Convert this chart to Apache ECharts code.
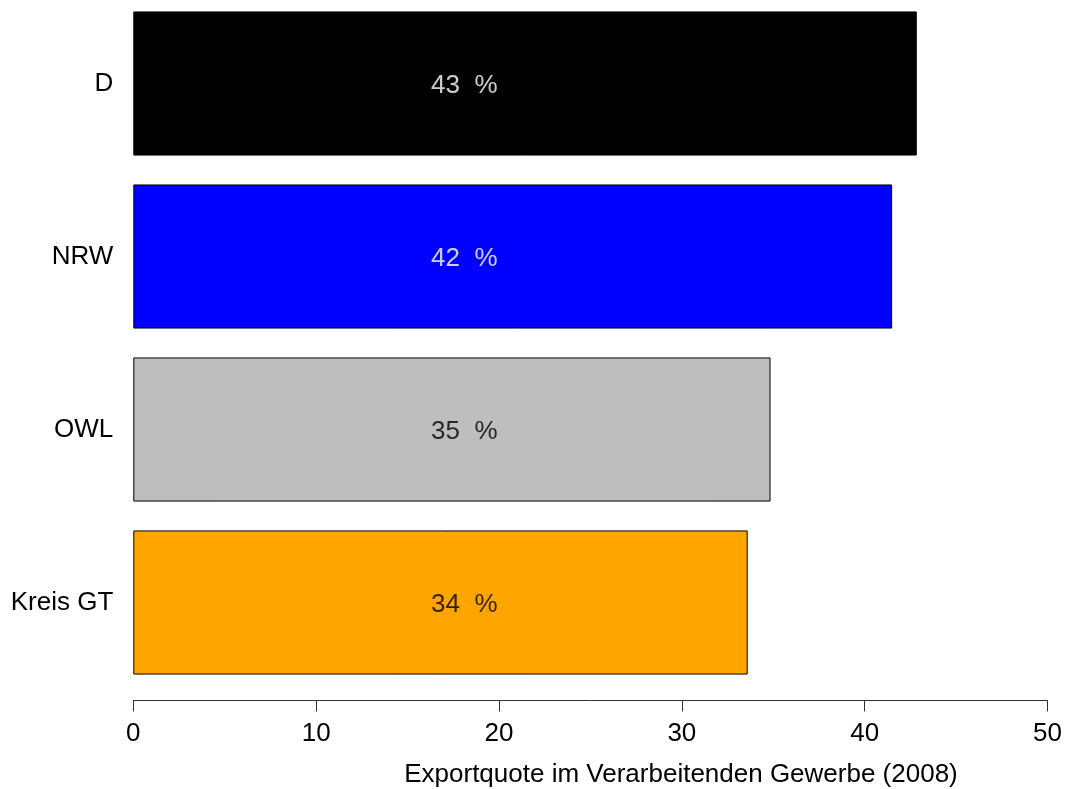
<!DOCTYPE html>
<html><head><meta charset="utf-8">
<script src="https://cdn.jsdelivr.net/npm/echarts@6/dist/echarts.min.js"></script>
<style>html,body{margin:0;padding:0;background:#fff;overflow:hidden}#c{position:absolute;left:0;top:-3.5px;width:1065px;height:793px}</style>
</head><body><div id="c"></div>
<script>
const categories = ['D', 'NRW', 'OWL', 'Kreis GT'];
const values = [42.85, 41.5, 34.85, 33.6];
const labels = ['43  %', '42  %', '35  %', '34  %'];
const barColors = ['#000000', '#0000FF', '#BEBEBE', '#FFA500'];
const labelColors = ['#FFFFFF', '#FFFFFF', '#000000', '#000000'];
const labelPos = [18.1, 18.1, 18.1, 18.1];
const xTicks = [0, 10, 20, 30, 40, 50];
const axisTitle = 'Exportquote im Verarbeitenden Gewerbe (2008)';

const font = 'Liberation Sans, Arial, Helvetica, sans-serif';
const chart = echarts.init(document.getElementById('c'), null, {renderer: 'canvas'});
chart.setOption({
  animation: false,
  backgroundColor: '#ffffff',
  grid: {left: 133.3, right: 1065 - 1048.8, top: 0, height: 692, containLabel: false},
  xAxis: {
    type: 'value', min: xTicks[0], max: xTicks[xTicks.length - 1], interval: 10,
    offset: 11.5,
    axisLine: {show: true, lineStyle: {color: '#333', width: 1}},
    axisTick: {show: true, length: 11, lineStyle: {color: '#333'}},
    axisLabel: {color: '#000', fontSize: 26, fontFamily: font, margin: 20},
    splitLine: {show: false}
  },
  yAxis: {
    type: 'category', data: categories, inverse: true,
    axisLine: {show: false}, axisTick: {show: false},
    axisLabel: {color: '#000', fontSize: 26, fontFamily: font, margin: 20, padding: [4, 0, 0, 0]}
  },
  series: [
    {
      type: 'bar', barCategoryGap: '16.7%',
      data: values.map((v, i) => ({value: v, itemStyle: {color: barColors[i], borderColor: '#000', borderWidth: 1}})),
      silent: true
    },
    {
      type: 'scatter', symbolSize: 0,
      data: labelPos.map((v, i) => ({
        value: [v, categories[i]],
        label: {show: true, position: 'inside', offset: [0, 2], formatter: labels[i], color: labelColors[i], fontSize: 26, fontFamily: font, textBorderWidth: 0}
      })),
      silent: true, z: 5
    }
  ],
  graphic: [{
    type: 'text', x: 681, y: 778,
    style: {text: axisTitle, fill: '#000', font: '26px ' + font, align: 'center', verticalAlign: 'middle', textAlign: 'center', textVerticalAlign: 'middle'}
  }]
});
</script></body></html>
